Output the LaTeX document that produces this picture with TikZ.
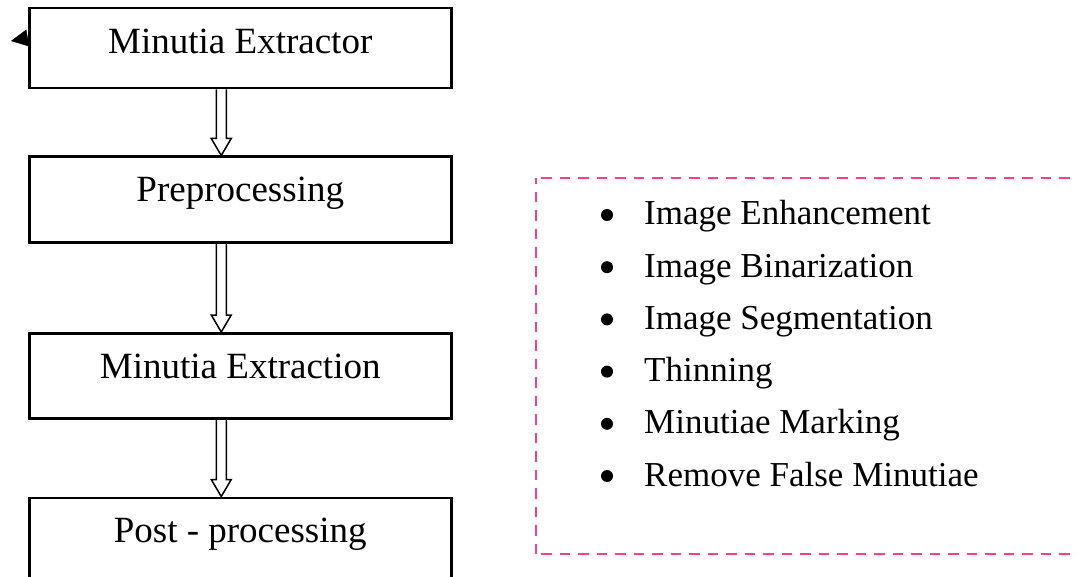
\documentclass[tikz,border=0pt]{standalone}
\usepackage{fontspec}
\setmainfont{Liberation Serif}
\usetikzlibrary{positioning,calc,arrows.meta}
\definecolor{dashpink}{RGB}{250,62,140}

\tikzset{
  stage/.style={draw,line width=2.5pt,rectangle,minimum width=422pt,inner sep=0pt,
    text height=45pt,font=\fontsize{37}{42}\selectfont},
  listitem/.style={anchor=base west,inner sep=0pt,font=\fontsize{35}{40}\selectfont},
  dot/.style={circle,fill,inner sep=0pt,minimum size=12pt},
}

% hollow block arrow from the bottom of #1 to the top of #2
\newcommand{\hollowarrow}[2]{%
  \draw[line width=1.5pt,line join=miter]
    ($(#1.south)+(-24,0)$) -- ($(#2.north)+(-24,-17)$) -- ($(#2.north)+(-29,-17)$)
    -- ($(#2.north)+(-19,0)$) -- ($(#2.north)+(-9,-17)$) -- ($(#2.north)+(-14,-17)$)
    -- ($(#1.south)+(-14,0)$);}

\begin{document}
\begin{tikzpicture}[x=1pt,y=-1pt]
  \useasboundingbox (0,0) rectangle (1078,577);
  \clip (0,0) rectangle (1078,577);

  \node[stage,text depth=35pt,anchor=north west] (extractor) at (28,7) {Minutia Extractor};
  \node[stage,text depth=41pt,below=66pt of extractor] (prep) {Preprocessing};
  \node[stage,text depth=40pt,below=88pt of prep] (extraction) {Minutia Extraction};
  \node[stage,text depth=100pt,below=77pt of extraction] (post) {Post - processing};

  \hollowarrow{extractor}{prep}
  \hollowarrow{prep}{extraction}
  \hollowarrow{extraction}{post}

  % small arrow tip on the left of the first box
  \coordinate (stub) at ($(extractor.north west)+(-17,34)$);
  \draw[-{Triangle[length=17pt,width=17pt]}] ($(extractor.north west)+(0,31)$) -- (stub);

  % steps of the preprocessing
  \draw[dashpink,line width=2.5pt,dash pattern=on 10.5pt off 8pt] (536,554) -- (536,178) (541,178) -- (1095,178)
    (541,554) -- (1095,554);
  \foreach \txt [count=\i] in {Image Enhancement,Image Binarization,Image Segmentation,
      Thinning,Minutiae Marking,Remove False Minutiae}{
    \node[listitem] (item\i) at (644,{225+52.2*(\i-1)}) {\txt};
    \node[dot] (dot\i) at (607,{215+52.2*(\i-1)}) {};
  }
\end{tikzpicture}
\end{document}
